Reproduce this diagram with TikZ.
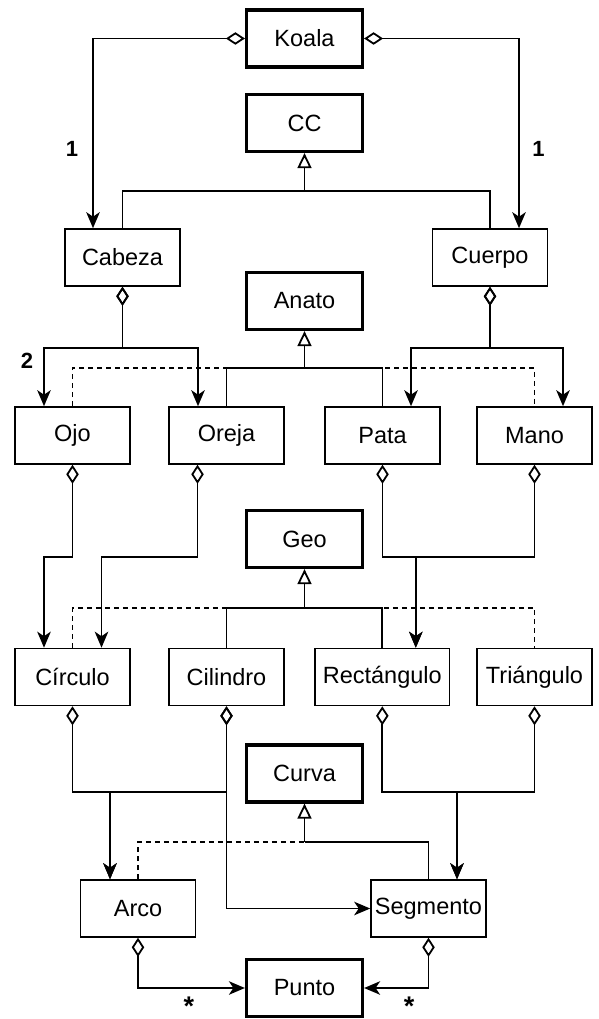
\documentclass[tikz,border=0pt]{standalone}
\usepackage{fontspec}
\setmainfont{Liberation Sans}
\usetikzlibrary{arrows.meta,calc}

\begin{document}
\begin{tikzpicture}[x=1pt,y=-1pt,
  box/.style={draw, line width=1.6pt, minimum width=115pt, minimum height=57pt,
    inner sep=0pt, font=\fontsize{23.5}{27}\selectfont},
  abox/.style={box, line width=3.2pt, minimum width=116pt},
  conn/.style={line width=1.8pt},
  agg/.style={conn, {Diamond[open,length=19pt,width=12.5pt]}-{Stealth[length=16pt,width=13.5pt,inset=4.5pt]}},
  inh/.style={conn, -{Triangle[open,length=15pt,width=14pt]}},
  dsh/.style={conn, dash pattern=on 5pt off 4pt},
  lbl/.style={inner sep=0pt, font=\bfseries\fontsize{22}{26}\selectfont},
  star/.style={inner sep=0pt, font=\bfseries\fontsize{27}{30}\selectfont}]

\useasboundingbox (0,0) rectangle (598,1019);

% classes
\node[abox] (koala) at (304.5,38.5) {Koala};
\node[abox] (cc) at (304.5,123) {CC};
\node[box] (cabeza) at (122.5,257.5) {Cabeza};
\node[box] (cuerpo) at (490,257.5) {Cuerpo};
\node[abox] (anato) at (304.5,301) {Anato};
\node[box] (ojo) at (72.5,435.5) {Ojo};
\node[box] (oreja) at (226.5,435.5) {Oreja};
\node[box] (pata) at (382.5,435.5) {Pata};
\node[box] (mano) at (534.5,435.5) {Mano};
\node[abox] (geo) at (304.5,539) {Geo};
\node[box] (circulo) at (72.5,677) {Círculo};
\node[box] (cilindro) at (226.5,677) {Cilindro};
\node[box, minimum width=134.5pt] (rect) at (382.3,677) {Rectángulo};
\node[box] (triang) at (534.5,677) {Triángulo};
\node[abox] (curva) at (304.5,773.5) {Curva};
\node[box] (arco) at (138,908.5) {Arco};
\node[box] (segmento) at (428.5,908.5) {Segmento};
\node[abox] (punto) at (304.5,988) {Punto};

% junctions of the generalisation trees
\coordinate (ccj) at (304.5,191);
\coordinate (anj) at (304.5,368);
\coordinate (geoj) at (304.5,608);
\coordinate (cvj) at (304.5,842);

% Koala parts
\draw[agg] (koala.west) -| ([xshift=-29.5pt]cabeza.north);
\draw[agg] (koala.east) -| ([xshift=29pt]cuerpo.north);

% CC generalisation
\draw[conn] (cabeza.north) |- (ccj) -| (cuerpo.north);
\draw[inh] (ccj) -- (cc.south);

% Cabeza and Cuerpo parts
\draw[agg] (cabeza.south) -- ++(0,61) -| ([xshift=-28.5pt]ojo.north);
\draw[agg] (cabeza.south) -- ++(0,61) -| ([xshift=-28.5pt]oreja.north);
\draw[agg] (cuerpo.south) -- ++(0,61) -| ([xshift=28.5pt]pata.north);
\draw[agg] (cuerpo.south) -- ++(0,61) -| ([xshift=28.5pt]mano.north);

% Anato generalisation
\draw[dsh] (ojo.north) |- (anj) -| (mano.north);
\draw[conn] (oreja.north) |- (anj) -| (pata.north);
\draw[inh] (anj) -- (anato.south);

% shapes of the body parts
\draw[agg] (ojo.south) -- ++(0,92) -| ([xshift=-28.5pt]circulo.north);
\draw[agg] ([xshift=-29pt]oreja.south) -- ++(0,92) -| ([xshift=29pt]circulo.north);
\draw[agg] (pata.south) -- ++(0,92) -| ([xshift=33.5pt]rect.north);
\draw[agg] (mano.south) -- ++(0,92) -| ([xshift=33.5pt]rect.north);

% Geo generalisation
\draw[dsh] (circulo.north) |- (geoj) -| (triang.north);
\draw[conn] (cilindro.north) |- (geoj) -| (rect.north);
\draw[inh] (geoj) -- (geo.south);

% curves of the shapes
\draw[agg] (circulo.south) -- ++(0,86) -| ([xshift=-28pt]arco.north);
\draw[agg] (cilindro.south) -- ++(0,86) -| ([xshift=-28pt]arco.north);
\draw[agg] (cilindro.south) |- (segmento.west);
\draw[agg] (rect.south) -- ++(0,86) -| ([xshift=28.5pt]segmento.north);
\draw[agg] (triang.south) -- ++(0,86) -| ([xshift=28.5pt]segmento.north);

% Curva generalisation
\draw[dsh] (arco.north) |- (cvj);
\draw[conn] (segmento.north) |- (cvj);
\draw[inh] (cvj) -- (curva.south);

% points
\draw[agg] (arco.south) |- (punto.west);
\draw[agg] (segmento.south) |- (punto.east);

% multiplicities
\node[lbl] (m1) at (72,149) {1};
\node[lbl] (m2) at (538.5,149) {1};
\node[lbl] (m3) at (27,361) {2};
\node[star] (m4) at (189,1006) {*};
\node[star] (m5) at (409,1006) {*};
\end{tikzpicture}
\end{document}
